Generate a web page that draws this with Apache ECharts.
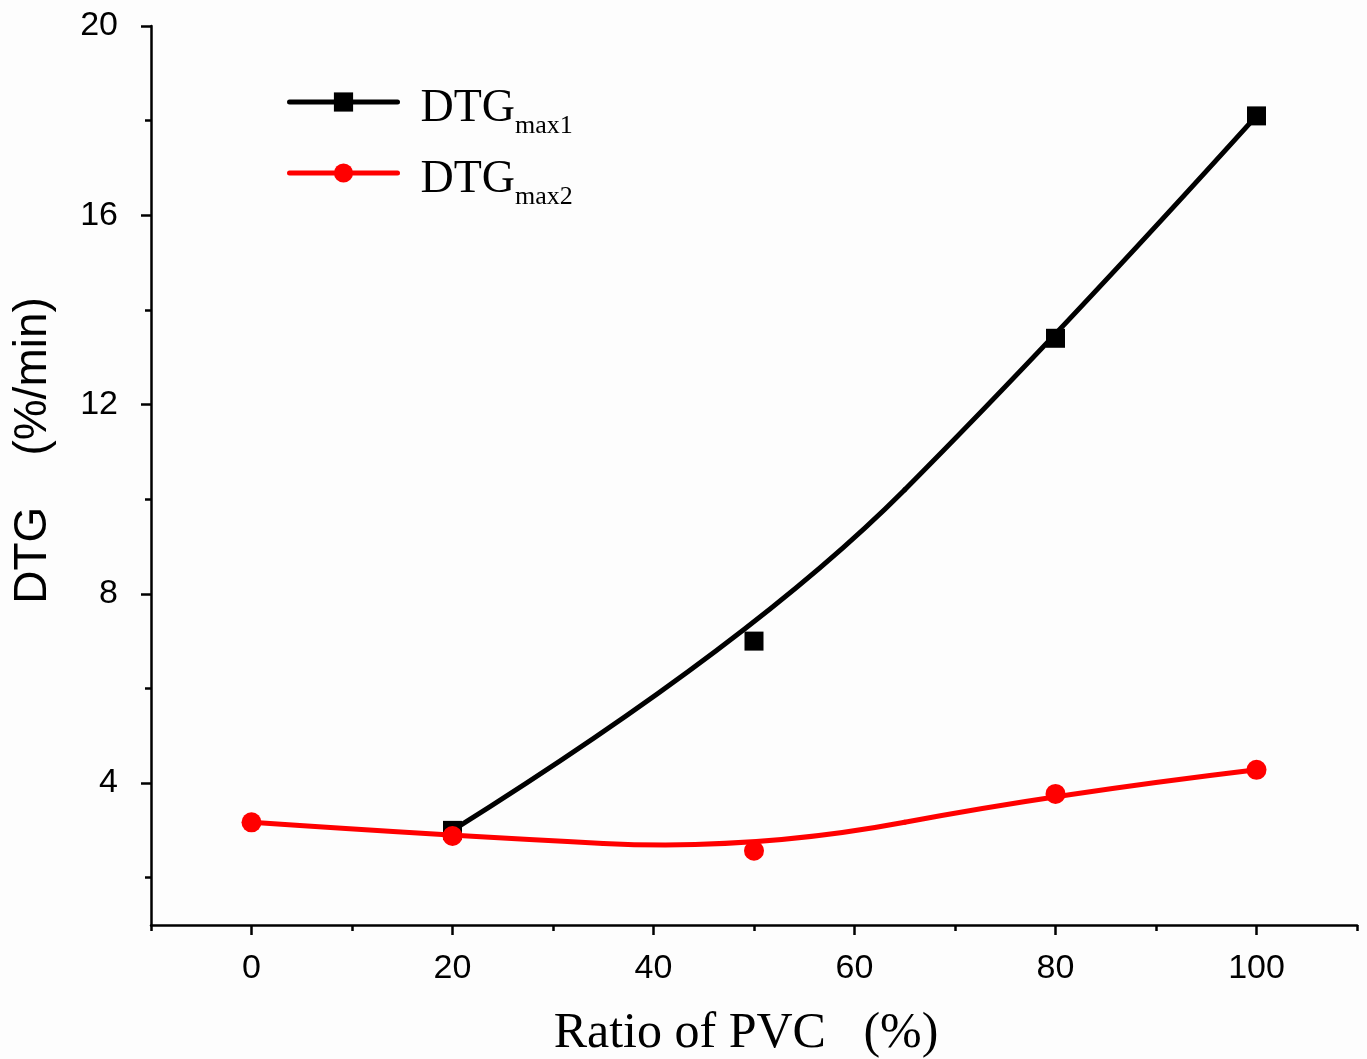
<!DOCTYPE html>
<html>
<head>
<meta charset="utf-8">
<title>DTG vs Ratio of PVC</title>
<script src="https://cdn.jsdelivr.net/npm/echarts@6/dist/echarts.min.js"></script>
<style>
  html, body { margin: 0; padding: 0; background: #fdfdfd; }
  #chart { width: 1367px; height: 1059px; }
</style>
</head>
<body>
<div id="chart"></div>
<script>
// Peak DTG values (%/min) against PVC ratio (%)
const ratioPVC1 = [20, 50, 80, 100];
const dtgMax1 = [3.0, 7.0, 13.4, 18.1];
const ratioPVC2 = [0, 20, 50, 80, 100];
const dtgMax2 = [3.17, 2.88, 2.57, 3.77, 4.28];

// Axis ticks and labels
const xMajorTicks = [0, 20, 40, 60, 80, 100];
const xMinorTicks = [-10, 10, 30, 50, 70, 90, 110];
const yMajorTicks = [4, 8, 12, 16, 20];
const yMinorTicks = [2, 6, 10, 14, 18];

const seriesNames = ['DTGmax1', 'DTGmax2'];

const pairs = (xs, ys) => xs.map((x, i) => [x, ys[i]]);

// Smooth fitted curve: quadratic B-spline with the data points as control points,
// drawn in pixel space through the chart's own coordinate system.
function bSplineRenderer(xs, ys, color) {
  return function (params, api) {
    if (params.dataIndex !== 0) return null;
    const p = xs.map((x, i) => api.coord([x, ys[i]]));
    const n = p.length;
    const children = [];
    let start = p[0];
    for (let i = 1; i <= n - 2; i++) {
      const end = (i === n - 2) ? p[n - 1] : [(p[i][0] + p[i + 1][0]) / 2, (p[i][1] + p[i + 1][1]) / 2];
      children.push({
        type: 'bezierCurve',
        shape: { x1: start[0], y1: start[1], x2: end[0], y2: end[1], cpx1: p[i][0], cpy1: p[i][1] },
        style: { stroke: color, lineWidth: 5, fill: null, lineCap: 'round' }
      });
      start = end;
    }
    return { type: 'group', children: children };
  };
}

const chart = echarts.init(document.getElementById('chart'), null, { renderer: 'canvas' });

const tickLabelStyle = { fontFamily: 'Liberation Sans, Arial, sans-serif', fontSize: 34, color: '#000' };
const serif = 'Liberation Serif, Times New Roman, serif';

chart.setOption({
  backgroundColor: '#fdfdfd',
  animation: false,
  grid: { left: 151, right: 10, top: 26, bottom: 134, containLabel: false, outerBoundsMode: 'none' },
  legend: {
    orient: 'vertical',
    left: 287,
    top: 76,
    padding: 0,
    itemWidth: 108,
    itemHeight: 24,
    itemGap: 8,
    selectedMode: false,
    data: [
      { name: seriesNames[0], lineStyle: { opacity: 1, width: 5, cap: 'round', color: '#000' } },
      { name: seriesNames[1], lineStyle: { opacity: 1, width: 5, cap: 'round', color: '#ff0000' } }
    ],
    formatter: name => '{m|' + name.slice(0, 3) + '}{s|' + name.slice(3) + '}',
    textStyle: {
      color: '#000',
      rich: {
        m: { fontFamily: serif, fontSize: 46, lineHeight: 52, verticalAlign: 'top', padding: [10, 0, 0, 18], color: '#000' },
        s: { fontFamily: serif, fontSize: 26, lineHeight: 26, verticalAlign: 'top', padding: [37, 0, 0, 0], color: '#000' }
      }
    }
  },
  xAxis: [{
    type: 'value',
    min: -10,
    max: 110,
    name: 'Ratio of PVC   (%)',
    nameLocation: 'middle',
    nameGap: 84,
    nameTextStyle: { fontFamily: serif, fontSize: 50, color: '#000', padding: [0, 16, 0, 0] },
    splitLine: { show: false },
    axisLine: { onZero: false, lineStyle: { color: '#000', width: 2.5 } },
    axisTick: { inside: false, length: 10, lineStyle: { width: 2.5, color: '#000' }, customValues: xMajorTicks },
    axisLabel: Object.assign({ margin: 27, customValues: xMajorTicks }, tickLabelStyle)
  }, {
    type: 'value',
    position: 'bottom',
    min: -10,
    max: 110,
    splitLine: { show: false },
    axisLine: { show: false, onZero: false },
    axisTick: { inside: false, length: 6, lineStyle: { width: 2.5, color: '#000' }, customValues: xMinorTicks },
    axisLabel: { show: false }
  }],
  yAxis: [{
    type: 'value',
    min: 1,
    max: 20,
    name: 'DTG    (%/min)',
    nameLocation: 'middle',
    nameGap: 95,
    nameTextStyle: { fontFamily: 'Liberation Sans, Arial, sans-serif', fontSize: 46, color: '#000', padding: [0, 0, 0, 50] },
    splitLine: { show: false },
    axisLine: { onZero: false, lineStyle: { color: '#000', width: 2.5 } },
    axisTick: { inside: false, length: 10, lineStyle: { width: 2.5, color: '#000' }, customValues: yMajorTicks },
    axisLabel: Object.assign({ margin: 33, customValues: yMajorTicks }, tickLabelStyle)
  }, {
    type: 'value',
    position: 'left',
    min: 1,
    max: 20,
    splitLine: { show: false },
    axisLine: { show: false, onZero: false },
    axisTick: { inside: false, length: 6, lineStyle: { width: 2.5, color: '#000' }, customValues: yMinorTicks },
    axisLabel: { show: false }
  }],
  series: [
    {
      name: seriesNames[0] + ' fit',
      type: 'custom',
      z: 2,
      silent: true,
      renderItem: bSplineRenderer(ratioPVC1, dtgMax1, '#000'),
      encode: { x: 0, y: 1 },
      data: pairs(ratioPVC1, dtgMax1)
    },
    {
      name: seriesNames[0],
      type: 'line',
      z: 3,
      symbol: 'rect',
      symbolSize: 19,
      showSymbol: true,
      itemStyle: { color: '#000' },
      lineStyle: { width: 5, opacity: 0, color: '#000' },
      emphasis: { disabled: true },
      data: pairs(ratioPVC1, dtgMax1)
    },
    {
      name: seriesNames[1] + ' fit',
      type: 'custom',
      z: 4,
      silent: true,
      renderItem: bSplineRenderer(ratioPVC2, dtgMax2, '#ff0000'),
      encode: { x: 0, y: 1 },
      data: pairs(ratioPVC2, dtgMax2)
    },
    {
      name: seriesNames[1],
      type: 'line',
      z: 5,
      symbol: 'circle',
      symbolSize: 20,
      showSymbol: true,
      itemStyle: { color: '#ff0000' },
      lineStyle: { width: 5, opacity: 0, color: '#ff0000' },
      emphasis: { disabled: true },
      data: pairs(ratioPVC2, dtgMax2)
    }
  ]
});
</script>
</body>
</html>
